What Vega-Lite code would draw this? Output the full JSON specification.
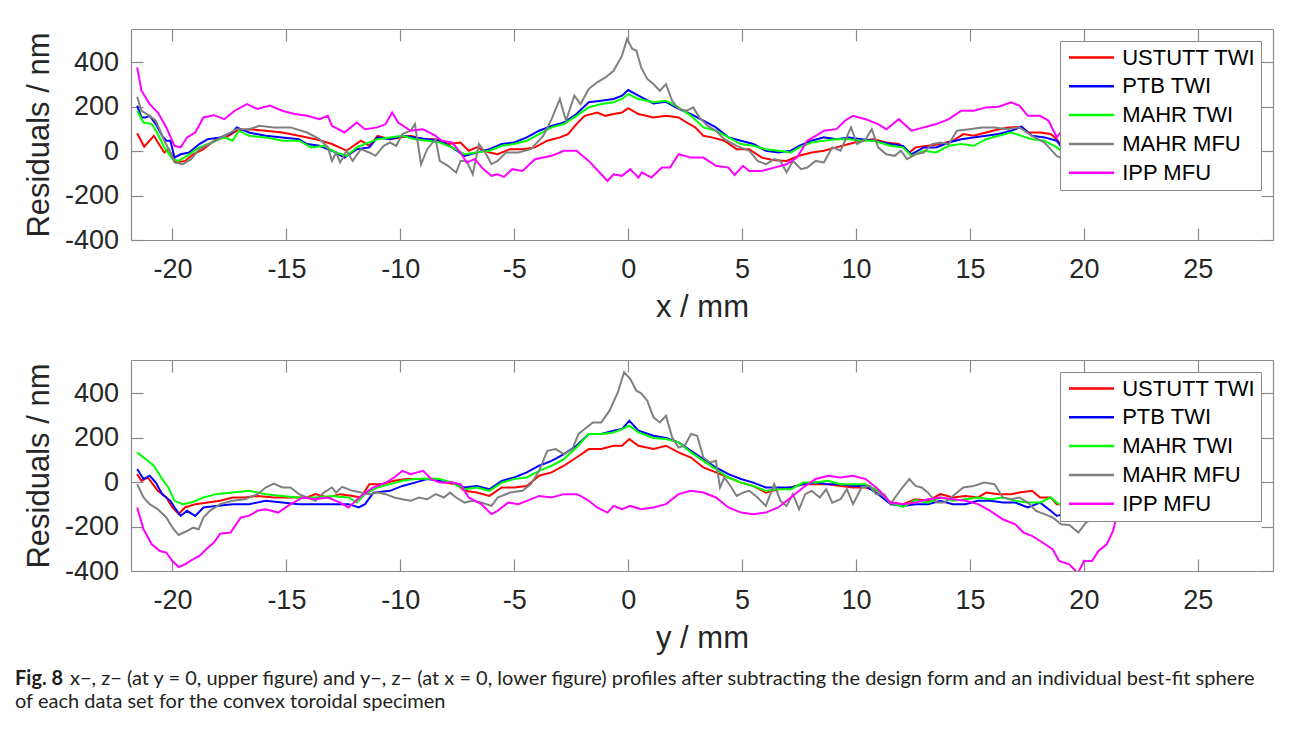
{
  "$schema": "https://vega.github.io/schema/vega-lite/v6.json",
  "background": "white",
  "padding": {"left": 15, "top": 28, "right": 5, "bottom": 0},
  "config": {"view": {"stroke": null}, "font": "Liberation Sans",
    "axis": {"labelFont": "Liberation Sans", "titleFont": "Liberation Sans"},
    "legend": {"labelFont": "Liberation Sans"}},
  "datasets": {
    "top": [
      {"s":"USTUTT TWI","x":-21.55,"y":81},{"s":"USTUTT TWI","x":-21.24,"y":20},{"s":"USTUTT TWI","x":-20.82,"y":69},{"s":"USTUTT TWI","x":-20.36,"y":-6},{"s":"USTUTT TWI","x":-20.18,"y":9},{"s":"USTUTT TWI","x":-19.82,"y":-51},{"s":"USTUTT TWI","x":-19.45,"y":-44},{"s":"USTUTT TWI","x":-19.09,"y":-14},{"s":"USTUTT TWI","x":-18.64,"y":9},{"s":"USTUTT TWI","x":-18.09,"y":54},{"s":"USTUTT TWI","x":-17.64,"y":62},{"s":"USTUTT TWI","x":-17.18,"y":92},{"s":"USTUTT TWI","x":-16.64,"y":99},{"s":"USTUTT TWI","x":-15.91,"y":92},{"s":"USTUTT TWI","x":-15.18,"y":84},{"s":"USTUTT TWI","x":-14.45,"y":69},{"s":"USTUTT TWI","x":-13.73,"y":54},{"s":"USTUTT TWI","x":-13.0,"y":32},{"s":"USTUTT TWI","x":-12.36,"y":2},{"s":"USTUTT TWI","x":-11.73,"y":47},{"s":"USTUTT TWI","x":-11.36,"y":24},{"s":"USTUTT TWI","x":-11.0,"y":69},{"s":"USTUTT TWI","x":-10.45,"y":54},{"s":"USTUTT TWI","x":-9.55,"y":69},{"s":"USTUTT TWI","x":-9.0,"y":54},{"s":"USTUTT TWI","x":-8.45,"y":54},{"s":"USTUTT TWI","x":-7.91,"y":32},{"s":"USTUTT TWI","x":-7.36,"y":39},{"s":"USTUTT TWI","x":-7.0,"y":2},{"s":"USTUTT TWI","x":-6.64,"y":17},{"s":"USTUTT TWI","x":-6.09,"y":-6},{"s":"USTUTT TWI","x":-5.73,"y":-14},{"s":"USTUTT TWI","x":-5.18,"y":9},{"s":"USTUTT TWI","x":-4.64,"y":9},{"s":"USTUTT TWI","x":-4.09,"y":17},{"s":"USTUTT TWI","x":-3.55,"y":47},{"s":"USTUTT TWI","x":-3.0,"y":62},{"s":"USTUTT TWI","x":-2.64,"y":77},{"s":"USTUTT TWI","x":-2.27,"y":122},{"s":"USTUTT TWI","x":-1.91,"y":159},{"s":"USTUTT TWI","x":-1.36,"y":174},{"s":"USTUTT TWI","x":-1.0,"y":159},{"s":"USTUTT TWI","x":-0.64,"y":167},{"s":"USTUTT TWI","x":-0.27,"y":174},{"s":"USTUTT TWI","x":0,"y":194},{"s":"USTUTT TWI","x":0.45,"y":167},{"s":"USTUTT TWI","x":1.11,"y":152},{"s":"USTUTT TWI","x":1.66,"y":159},{"s":"USTUTT TWI","x":2.21,"y":152},{"s":"USTUTT TWI","x":2.57,"y":129},{"s":"USTUTT TWI","x":2.94,"y":107},{"s":"USTUTT TWI","x":3.3,"y":69},{"s":"USTUTT TWI","x":3.67,"y":62},{"s":"USTUTT TWI","x":4.22,"y":47},{"s":"USTUTT TWI","x":4.76,"y":9},{"s":"USTUTT TWI","x":5.31,"y":9},{"s":"USTUTT TWI","x":5.86,"y":-29},{"s":"USTUTT TWI","x":6.41,"y":-41},{"s":"USTUTT TWI","x":6.95,"y":-44},{"s":"USTUTT TWI","x":7.5,"y":-21},{"s":"USTUTT TWI","x":8.05,"y":-6},{"s":"USTUTT TWI","x":8.59,"y":2},{"s":"USTUTT TWI","x":9.14,"y":17},{"s":"USTUTT TWI","x":9.69,"y":32},{"s":"USTUTT TWI","x":10.24,"y":47},{"s":"USTUTT TWI","x":10.78,"y":54},{"s":"USTUTT TWI","x":11.33,"y":39},{"s":"USTUTT TWI","x":11.88,"y":32},{"s":"USTUTT TWI","x":12.34,"y":-6},{"s":"USTUTT TWI","x":12.61,"y":17},{"s":"USTUTT TWI","x":13.16,"y":24},{"s":"USTUTT TWI","x":13.7,"y":32},{"s":"USTUTT TWI","x":14.25,"y":47},{"s":"USTUTT TWI","x":14.71,"y":77},{"s":"USTUTT TWI","x":15.16,"y":69},{"s":"USTUTT TWI","x":15.71,"y":84},{"s":"USTUTT TWI","x":16.26,"y":99},{"s":"USTUTT TWI","x":16.72,"y":107},{"s":"USTUTT TWI","x":17.26,"y":110},{"s":"USTUTT TWI","x":17.54,"y":84},{"s":"USTUTT TWI","x":18.08,"y":84},{"s":"USTUTT TWI","x":18.54,"y":77},{"s":"USTUTT TWI","x":18.81,"y":54},{"s":"USTUTT TWI","x":19.09,"y":9},{"s":"USTUTT TWI","x":19.6,"y":-20},{"s":"USTUTT TWI","x":20.3,"y":-10},{"s":"USTUTT TWI","x":21.0,"y":30},{"s":"USTUTT TWI","x":21.5,"y":60},
      {"s":"PTB TWI","x":-21.55,"y":205},{"s":"PTB TWI","x":-21.36,"y":152},{"s":"PTB TWI","x":-21.18,"y":152},{"s":"PTB TWI","x":-21.0,"y":159},{"s":"PTB TWI","x":-20.73,"y":122},{"s":"PTB TWI","x":-20.45,"y":69},{"s":"PTB TWI","x":-20.27,"y":47},{"s":"PTB TWI","x":-20.09,"y":47},{"s":"PTB TWI","x":-19.91,"y":-29},{"s":"PTB TWI","x":-19.64,"y":-14},{"s":"PTB TWI","x":-19.27,"y":-6},{"s":"PTB TWI","x":-18.82,"y":32},{"s":"PTB TWI","x":-18.45,"y":54},{"s":"PTB TWI","x":-17.91,"y":62},{"s":"PTB TWI","x":-17.36,"y":84},{"s":"PTB TWI","x":-17.18,"y":107},{"s":"PTB TWI","x":-16.64,"y":84},{"s":"PTB TWI","x":-15.91,"y":69},{"s":"PTB TWI","x":-15.18,"y":62},{"s":"PTB TWI","x":-14.45,"y":54},{"s":"PTB TWI","x":-14.09,"y":32},{"s":"PTB TWI","x":-13.55,"y":24},{"s":"PTB TWI","x":-13.0,"y":2},{"s":"PTB TWI","x":-12.45,"y":-29},{"s":"PTB TWI","x":-11.91,"y":9},{"s":"PTB TWI","x":-11.36,"y":17},{"s":"PTB TWI","x":-11.0,"y":62},{"s":"PTB TWI","x":-10.45,"y":54},{"s":"PTB TWI","x":-9.91,"y":69},{"s":"PTB TWI","x":-9.36,"y":62},{"s":"PTB TWI","x":-8.82,"y":54},{"s":"PTB TWI","x":-8.27,"y":47},{"s":"PTB TWI","x":-7.73,"y":17},{"s":"PTB TWI","x":-7.18,"y":-21},{"s":"PTB TWI","x":-6.64,"y":-6},{"s":"PTB TWI","x":-6.09,"y":9},{"s":"PTB TWI","x":-5.55,"y":32},{"s":"PTB TWI","x":-5.0,"y":39},{"s":"PTB TWI","x":-4.45,"y":62},{"s":"PTB TWI","x":-3.91,"y":92},{"s":"PTB TWI","x":-3.36,"y":114},{"s":"PTB TWI","x":-2.82,"y":129},{"s":"PTB TWI","x":-2.27,"y":167},{"s":"PTB TWI","x":-1.73,"y":220},{"s":"PTB TWI","x":-1.18,"y":227},{"s":"PTB TWI","x":-0.64,"y":235},{"s":"PTB TWI","x":-0.27,"y":250},{"s":"PTB TWI","x":0,"y":275},{"s":"PTB TWI","x":0.45,"y":250},{"s":"PTB TWI","x":1.11,"y":215},{"s":"PTB TWI","x":1.66,"y":222},{"s":"PTB TWI","x":2.21,"y":190},{"s":"PTB TWI","x":2.76,"y":167},{"s":"PTB TWI","x":3.3,"y":137},{"s":"PTB TWI","x":3.85,"y":107},{"s":"PTB TWI","x":4.4,"y":62},{"s":"PTB TWI","x":4.95,"y":47},{"s":"PTB TWI","x":5.49,"y":32},{"s":"PTB TWI","x":6.04,"y":2},{"s":"PTB TWI","x":6.59,"y":-6},{"s":"PTB TWI","x":7.14,"y":2},{"s":"PTB TWI","x":7.5,"y":24},{"s":"PTB TWI","x":8.05,"y":47},{"s":"PTB TWI","x":8.59,"y":62},{"s":"PTB TWI","x":9.14,"y":54},{"s":"PTB TWI","x":9.69,"y":62},{"s":"PTB TWI","x":10.24,"y":54},{"s":"PTB TWI","x":10.78,"y":47},{"s":"PTB TWI","x":11.51,"y":32},{"s":"PTB TWI","x":12.06,"y":24},{"s":"PTB TWI","x":12.43,"y":-14},{"s":"PTB TWI","x":12.97,"y":17},{"s":"PTB TWI","x":13.52,"y":17},{"s":"PTB TWI","x":14.07,"y":39},{"s":"PTB TWI","x":14.62,"y":54},{"s":"PTB TWI","x":15.16,"y":62},{"s":"PTB TWI","x":15.71,"y":69},{"s":"PTB TWI","x":16.26,"y":77},{"s":"PTB TWI","x":16.81,"y":92},{"s":"PTB TWI","x":17.26,"y":110},{"s":"PTB TWI","x":17.72,"y":69},{"s":"PTB TWI","x":18.27,"y":62},{"s":"PTB TWI","x":18.81,"y":47},{"s":"PTB TWI","x":19.09,"y":9},{"s":"PTB TWI","x":19.6,"y":-15},{"s":"PTB TWI","x":20.3,"y":0},{"s":"PTB TWI","x":21.0,"y":40},{"s":"PTB TWI","x":21.5,"y":80},
      {"s":"MAHR TWI","x":-21.55,"y":182},{"s":"MAHR TWI","x":-21.27,"y":129},{"s":"MAHR TWI","x":-20.91,"y":122},{"s":"MAHR TWI","x":-20.64,"y":77},{"s":"MAHR TWI","x":-20.36,"y":17},{"s":"MAHR TWI","x":-20.0,"y":-36},{"s":"MAHR TWI","x":-19.73,"y":-44},{"s":"MAHR TWI","x":-19.36,"y":-21},{"s":"MAHR TWI","x":-18.82,"y":17},{"s":"MAHR TWI","x":-18.27,"y":39},{"s":"MAHR TWI","x":-17.73,"y":62},{"s":"MAHR TWI","x":-17.36,"y":47},{"s":"MAHR TWI","x":-17.09,"y":92},{"s":"MAHR TWI","x":-16.64,"y":69},{"s":"MAHR TWI","x":-15.91,"y":62},{"s":"MAHR TWI","x":-15.18,"y":47},{"s":"MAHR TWI","x":-14.45,"y":47},{"s":"MAHR TWI","x":-13.91,"y":17},{"s":"MAHR TWI","x":-13.36,"y":24},{"s":"MAHR TWI","x":-12.82,"y":-6},{"s":"MAHR TWI","x":-12.36,"y":-21},{"s":"MAHR TWI","x":-11.91,"y":17},{"s":"MAHR TWI","x":-11.55,"y":32},{"s":"MAHR TWI","x":-11.0,"y":54},{"s":"MAHR TWI","x":-10.45,"y":62},{"s":"MAHR TWI","x":-9.91,"y":69},{"s":"MAHR TWI","x":-9.36,"y":54},{"s":"MAHR TWI","x":-8.82,"y":47},{"s":"MAHR TWI","x":-8.27,"y":39},{"s":"MAHR TWI","x":-7.73,"y":17},{"s":"MAHR TWI","x":-7.18,"y":-14},{"s":"MAHR TWI","x":-6.64,"y":-6},{"s":"MAHR TWI","x":-6.09,"y":2},{"s":"MAHR TWI","x":-5.55,"y":24},{"s":"MAHR TWI","x":-5.0,"y":32},{"s":"MAHR TWI","x":-4.45,"y":47},{"s":"MAHR TWI","x":-3.91,"y":77},{"s":"MAHR TWI","x":-3.36,"y":107},{"s":"MAHR TWI","x":-2.82,"y":122},{"s":"MAHR TWI","x":-2.27,"y":159},{"s":"MAHR TWI","x":-1.73,"y":197},{"s":"MAHR TWI","x":-1.18,"y":212},{"s":"MAHR TWI","x":-0.64,"y":220},{"s":"MAHR TWI","x":-0.27,"y":235},{"s":"MAHR TWI","x":0,"y":257},{"s":"MAHR TWI","x":0.45,"y":235},{"s":"MAHR TWI","x":1.11,"y":220},{"s":"MAHR TWI","x":1.66,"y":227},{"s":"MAHR TWI","x":2.21,"y":197},{"s":"MAHR TWI","x":2.76,"y":159},{"s":"MAHR TWI","x":3.3,"y":107},{"s":"MAHR TWI","x":3.85,"y":92},{"s":"MAHR TWI","x":4.4,"y":62},{"s":"MAHR TWI","x":4.95,"y":32},{"s":"MAHR TWI","x":5.49,"y":24},{"s":"MAHR TWI","x":6.04,"y":9},{"s":"MAHR TWI","x":6.59,"y":2},{"s":"MAHR TWI","x":7.14,"y":-6},{"s":"MAHR TWI","x":7.5,"y":17},{"s":"MAHR TWI","x":8.05,"y":39},{"s":"MAHR TWI","x":8.59,"y":47},{"s":"MAHR TWI","x":9.14,"y":54},{"s":"MAHR TWI","x":9.69,"y":54},{"s":"MAHR TWI","x":10.24,"y":47},{"s":"MAHR TWI","x":10.78,"y":47},{"s":"MAHR TWI","x":11.51,"y":24},{"s":"MAHR TWI","x":12.06,"y":17},{"s":"MAHR TWI","x":12.43,"y":-21},{"s":"MAHR TWI","x":12.97,"y":2},{"s":"MAHR TWI","x":13.52,"y":-6},{"s":"MAHR TWI","x":14.07,"y":24},{"s":"MAHR TWI","x":14.62,"y":32},{"s":"MAHR TWI","x":15.16,"y":24},{"s":"MAHR TWI","x":15.71,"y":54},{"s":"MAHR TWI","x":16.26,"y":69},{"s":"MAHR TWI","x":16.81,"y":84},{"s":"MAHR TWI","x":17.26,"y":69},{"s":"MAHR TWI","x":17.72,"y":54},{"s":"MAHR TWI","x":18.27,"y":47},{"s":"MAHR TWI","x":18.81,"y":17},{"s":"MAHR TWI","x":19.09,"y":-6},{"s":"MAHR TWI","x":19.6,"y":-25},{"s":"MAHR TWI","x":20.3,"y":-10},{"s":"MAHR TWI","x":21.0,"y":30},{"s":"MAHR TWI","x":21.5,"y":70},
      {"s":"MAHR MFU","x":-21.55,"y":245},{"s":"MAHR MFU","x":-21.36,"y":182},{"s":"MAHR MFU","x":-21.0,"y":159},{"s":"MAHR MFU","x":-20.73,"y":137},{"s":"MAHR MFU","x":-20.36,"y":47},{"s":"MAHR MFU","x":-20.09,"y":-6},{"s":"MAHR MFU","x":-19.91,"y":-51},{"s":"MAHR MFU","x":-19.55,"y":-59},{"s":"MAHR MFU","x":-19.18,"y":-36},{"s":"MAHR MFU","x":-18.82,"y":9},{"s":"MAHR MFU","x":-18.27,"y":39},{"s":"MAHR MFU","x":-17.73,"y":69},{"s":"MAHR MFU","x":-17.18,"y":99},{"s":"MAHR MFU","x":-16.64,"y":99},{"s":"MAHR MFU","x":-16.18,"y":114},{"s":"MAHR MFU","x":-15.55,"y":107},{"s":"MAHR MFU","x":-14.82,"y":107},{"s":"MAHR MFU","x":-14.09,"y":84},{"s":"MAHR MFU","x":-13.55,"y":54},{"s":"MAHR MFU","x":-13.18,"y":17},{"s":"MAHR MFU","x":-13.0,"y":-44},{"s":"MAHR MFU","x":-12.82,"y":-6},{"s":"MAHR MFU","x":-12.64,"y":-51},{"s":"MAHR MFU","x":-12.36,"y":2},{"s":"MAHR MFU","x":-12.09,"y":-44},{"s":"MAHR MFU","x":-11.73,"y":9},{"s":"MAHR MFU","x":-11.36,"y":-6},{"s":"MAHR MFU","x":-11.09,"y":-21},{"s":"MAHR MFU","x":-10.73,"y":24},{"s":"MAHR MFU","x":-10.45,"y":39},{"s":"MAHR MFU","x":-10.18,"y":24},{"s":"MAHR MFU","x":-9.91,"y":77},{"s":"MAHR MFU","x":-9.55,"y":92},{"s":"MAHR MFU","x":-9.36,"y":122},{"s":"MAHR MFU","x":-9.09,"y":-59},{"s":"MAHR MFU","x":-8.82,"y":9},{"s":"MAHR MFU","x":-8.45,"y":54},{"s":"MAHR MFU","x":-8.27,"y":-44},{"s":"MAHR MFU","x":-7.91,"y":-66},{"s":"MAHR MFU","x":-7.55,"y":-96},{"s":"MAHR MFU","x":-7.36,"y":-44},{"s":"MAHR MFU","x":-7.09,"y":-44},{"s":"MAHR MFU","x":-6.82,"y":-104},{"s":"MAHR MFU","x":-6.55,"y":32},{"s":"MAHR MFU","x":-6.27,"y":-6},{"s":"MAHR MFU","x":-6.0,"y":-59},{"s":"MAHR MFU","x":-5.73,"y":-44},{"s":"MAHR MFU","x":-5.36,"y":-6},{"s":"MAHR MFU","x":-4.82,"y":-6},{"s":"MAHR MFU","x":-4.27,"y":9},{"s":"MAHR MFU","x":-3.73,"y":69},{"s":"MAHR MFU","x":-3.36,"y":144},{"s":"MAHR MFU","x":-3.0,"y":235},{"s":"MAHR MFU","x":-2.73,"y":137},{"s":"MAHR MFU","x":-2.36,"y":250},{"s":"MAHR MFU","x":-2.09,"y":212},{"s":"MAHR MFU","x":-1.73,"y":280},{"s":"MAHR MFU","x":-1.36,"y":310},{"s":"MAHR MFU","x":-1.0,"y":332},{"s":"MAHR MFU","x":-0.64,"y":362},{"s":"MAHR MFU","x":-0.27,"y":430},{"s":"MAHR MFU","x":-0.05,"y":505},{"s":"MAHR MFU","x":0.18,"y":460},{"s":"MAHR MFU","x":0.36,"y":453},{"s":"MAHR MFU","x":0.57,"y":377},{"s":"MAHR MFU","x":0.84,"y":325},{"s":"MAHR MFU","x":1.11,"y":302},{"s":"MAHR MFU","x":1.39,"y":272},{"s":"MAHR MFU","x":1.66,"y":302},{"s":"MAHR MFU","x":1.93,"y":227},{"s":"MAHR MFU","x":2.21,"y":190},{"s":"MAHR MFU","x":2.57,"y":182},{"s":"MAHR MFU","x":2.85,"y":197},{"s":"MAHR MFU","x":3.12,"y":152},{"s":"MAHR MFU","x":3.49,"y":114},{"s":"MAHR MFU","x":3.85,"y":92},{"s":"MAHR MFU","x":4.22,"y":54},{"s":"MAHR MFU","x":4.76,"y":24},{"s":"MAHR MFU","x":5.31,"y":2},{"s":"MAHR MFU","x":5.68,"y":-44},{"s":"MAHR MFU","x":6.04,"y":-59},{"s":"MAHR MFU","x":6.41,"y":-36},{"s":"MAHR MFU","x":6.68,"y":-44},{"s":"MAHR MFU","x":6.95,"y":-96},{"s":"MAHR MFU","x":7.23,"y":-44},{"s":"MAHR MFU","x":7.59,"y":-81},{"s":"MAHR MFU","x":7.86,"y":-74},{"s":"MAHR MFU","x":8.23,"y":-44},{"s":"MAHR MFU","x":8.59,"y":-51},{"s":"MAHR MFU","x":8.96,"y":17},{"s":"MAHR MFU","x":9.32,"y":2},{"s":"MAHR MFU","x":9.78,"y":107},{"s":"MAHR MFU","x":10.05,"y":32},{"s":"MAHR MFU","x":10.42,"y":54},{"s":"MAHR MFU","x":10.69,"y":99},{"s":"MAHR MFU","x":10.97,"y":17},{"s":"MAHR MFU","x":11.33,"y":-14},{"s":"MAHR MFU","x":11.7,"y":-21},{"s":"MAHR MFU","x":11.97,"y":2},{"s":"MAHR MFU","x":12.24,"y":-36},{"s":"MAHR MFU","x":12.61,"y":-14},{"s":"MAHR MFU","x":12.97,"y":-6},{"s":"MAHR MFU","x":13.34,"y":32},{"s":"MAHR MFU","x":13.7,"y":39},{"s":"MAHR MFU","x":14.07,"y":32},{"s":"MAHR MFU","x":14.43,"y":92},{"s":"MAHR MFU","x":14.98,"y":99},{"s":"MAHR MFU","x":15.53,"y":107},{"s":"MAHR MFU","x":16.08,"y":107},{"s":"MAHR MFU","x":16.62,"y":99},{"s":"MAHR MFU","x":17.17,"y":107},{"s":"MAHR MFU","x":17.72,"y":69},{"s":"MAHR MFU","x":18.27,"y":39},{"s":"MAHR MFU","x":18.81,"y":-21},{"s":"MAHR MFU","x":19.09,"y":-36},{"s":"MAHR MFU","x":19.6,"y":-50},{"s":"MAHR MFU","x":20.3,"y":-20},{"s":"MAHR MFU","x":21.0,"y":30},{"s":"MAHR MFU","x":21.5,"y":80},
      {"s":"IPP MFU","x":-21.55,"y":377},{"s":"IPP MFU","x":-21.36,"y":272},{"s":"IPP MFU","x":-21.0,"y":212},{"s":"IPP MFU","x":-20.64,"y":174},{"s":"IPP MFU","x":-20.27,"y":107},{"s":"IPP MFU","x":-19.91,"y":24},{"s":"IPP MFU","x":-19.64,"y":17},{"s":"IPP MFU","x":-19.36,"y":62},{"s":"IPP MFU","x":-19.0,"y":84},{"s":"IPP MFU","x":-18.64,"y":152},{"s":"IPP MFU","x":-18.18,"y":162},{"s":"IPP MFU","x":-17.73,"y":144},{"s":"IPP MFU","x":-17.27,"y":182},{"s":"IPP MFU","x":-16.73,"y":212},{"s":"IPP MFU","x":-16.27,"y":190},{"s":"IPP MFU","x":-15.73,"y":205},{"s":"IPP MFU","x":-15.18,"y":182},{"s":"IPP MFU","x":-14.64,"y":167},{"s":"IPP MFU","x":-14.09,"y":159},{"s":"IPP MFU","x":-13.55,"y":144},{"s":"IPP MFU","x":-13.18,"y":159},{"s":"IPP MFU","x":-13.0,"y":114},{"s":"IPP MFU","x":-12.45,"y":84},{"s":"IPP MFU","x":-11.91,"y":129},{"s":"IPP MFU","x":-11.55,"y":99},{"s":"IPP MFU","x":-11.0,"y":107},{"s":"IPP MFU","x":-10.64,"y":122},{"s":"IPP MFU","x":-10.36,"y":174},{"s":"IPP MFU","x":-10.09,"y":129},{"s":"IPP MFU","x":-9.55,"y":92},{"s":"IPP MFU","x":-9.0,"y":99},{"s":"IPP MFU","x":-8.45,"y":69},{"s":"IPP MFU","x":-8.18,"y":47},{"s":"IPP MFU","x":-7.73,"y":39},{"s":"IPP MFU","x":-7.36,"y":-6},{"s":"IPP MFU","x":-7.09,"y":-51},{"s":"IPP MFU","x":-6.73,"y":-36},{"s":"IPP MFU","x":-6.36,"y":-81},{"s":"IPP MFU","x":-6.0,"y":-111},{"s":"IPP MFU","x":-5.73,"y":-104},{"s":"IPP MFU","x":-5.45,"y":-116},{"s":"IPP MFU","x":-5.09,"y":-81},{"s":"IPP MFU","x":-4.64,"y":-89},{"s":"IPP MFU","x":-4.09,"y":-36},{"s":"IPP MFU","x":-3.73,"y":-29},{"s":"IPP MFU","x":-3.36,"y":-21},{"s":"IPP MFU","x":-2.82,"y":2},{"s":"IPP MFU","x":-2.27,"y":2},{"s":"IPP MFU","x":-1.73,"y":-44},{"s":"IPP MFU","x":-1.18,"y":-104},{"s":"IPP MFU","x":-0.91,"y":-134},{"s":"IPP MFU","x":-0.64,"y":-104},{"s":"IPP MFU","x":-0.27,"y":-111},{"s":"IPP MFU","x":0.09,"y":-81},{"s":"IPP MFU","x":0.45,"y":-119},{"s":"IPP MFU","x":0.6,"y":-95},{"s":"IPP MFU","x":1.02,"y":-119},{"s":"IPP MFU","x":1.48,"y":-74},{"s":"IPP MFU","x":1.84,"y":-74},{"s":"IPP MFU","x":2.21,"y":-14},{"s":"IPP MFU","x":2.76,"y":-29},{"s":"IPP MFU","x":3.3,"y":-29},{"s":"IPP MFU","x":3.85,"y":-66},{"s":"IPP MFU","x":4.4,"y":-74},{"s":"IPP MFU","x":4.67,"y":-107},{"s":"IPP MFU","x":5.04,"y":-66},{"s":"IPP MFU","x":5.31,"y":-89},{"s":"IPP MFU","x":5.86,"y":-89},{"s":"IPP MFU","x":6.41,"y":-74},{"s":"IPP MFU","x":6.95,"y":-59},{"s":"IPP MFU","x":7.41,"y":-29},{"s":"IPP MFU","x":7.86,"y":47},{"s":"IPP MFU","x":8.23,"y":69},{"s":"IPP MFU","x":8.59,"y":92},{"s":"IPP MFU","x":9.14,"y":99},{"s":"IPP MFU","x":9.51,"y":137},{"s":"IPP MFU","x":9.87,"y":159},{"s":"IPP MFU","x":10.42,"y":144},{"s":"IPP MFU","x":10.97,"y":122},{"s":"IPP MFU","x":11.33,"y":99},{"s":"IPP MFU","x":11.88,"y":144},{"s":"IPP MFU","x":12.43,"y":92},{"s":"IPP MFU","x":12.97,"y":107},{"s":"IPP MFU","x":13.52,"y":122},{"s":"IPP MFU","x":14.07,"y":144},{"s":"IPP MFU","x":14.62,"y":182},{"s":"IPP MFU","x":15.16,"y":182},{"s":"IPP MFU","x":15.71,"y":197},{"s":"IPP MFU","x":16.26,"y":200},{"s":"IPP MFU","x":16.81,"y":220},{"s":"IPP MFU","x":17.17,"y":205},{"s":"IPP MFU","x":17.54,"y":159},{"s":"IPP MFU","x":18.08,"y":159},{"s":"IPP MFU","x":18.45,"y":137},{"s":"IPP MFU","x":18.81,"y":62},{"s":"IPP MFU","x":19.09,"y":99},{"s":"IPP MFU","x":19.6,"y":120},{"s":"IPP MFU","x":20.3,"y":180},{"s":"IPP MFU","x":21.0,"y":280},{"s":"IPP MFU","x":21.5,"y":370}
    ],
    "bottom": [
      {"s":"USTUTT TWI","x":-21.55,"y":36},{"s":"USTUTT TWI","x":-21.36,"y":6},{"s":"USTUTT TWI","x":-21.09,"y":21},{"s":"USTUTT TWI","x":-20.91,"y":-2},{"s":"USTUTT TWI","x":-20.64,"y":-39},{"s":"USTUTT TWI","x":-20.27,"y":-69},{"s":"USTUTT TWI","x":-20.0,"y":-114},{"s":"USTUTT TWI","x":-19.73,"y":-144},{"s":"USTUTT TWI","x":-19.45,"y":-114},{"s":"USTUTT TWI","x":-19.0,"y":-99},{"s":"USTUTT TWI","x":-18.45,"y":-92},{"s":"USTUTT TWI","x":-17.91,"y":-84},{"s":"USTUTT TWI","x":-17.36,"y":-69},{"s":"USTUTT TWI","x":-16.82,"y":-69},{"s":"USTUTT TWI","x":-16.27,"y":-62},{"s":"USTUTT TWI","x":-15.55,"y":-69},{"s":"USTUTT TWI","x":-14.82,"y":-69},{"s":"USTUTT TWI","x":-14.09,"y":-69},{"s":"USTUTT TWI","x":-13.73,"y":-54},{"s":"USTUTT TWI","x":-13.18,"y":-69},{"s":"USTUTT TWI","x":-12.64,"y":-54},{"s":"USTUTT TWI","x":-12.09,"y":-62},{"s":"USTUTT TWI","x":-11.73,"y":-69},{"s":"USTUTT TWI","x":-11.36,"y":-9},{"s":"USTUTT TWI","x":-10.82,"y":-9},{"s":"USTUTT TWI","x":-10.27,"y":6},{"s":"USTUTT TWI","x":-9.73,"y":14},{"s":"USTUTT TWI","x":-9.18,"y":14},{"s":"USTUTT TWI","x":-8.64,"y":14},{"s":"USTUTT TWI","x":-8.09,"y":-2},{"s":"USTUTT TWI","x":-7.55,"y":-9},{"s":"USTUTT TWI","x":-7.18,"y":-39},{"s":"USTUTT TWI","x":-6.64,"y":-47},{"s":"USTUTT TWI","x":-6.09,"y":-62},{"s":"USTUTT TWI","x":-5.55,"y":-24},{"s":"USTUTT TWI","x":-5.0,"y":-24},{"s":"USTUTT TWI","x":-4.45,"y":-17},{"s":"USTUTT TWI","x":-3.91,"y":29},{"s":"USTUTT TWI","x":-3.36,"y":44},{"s":"USTUTT TWI","x":-2.82,"y":74},{"s":"USTUTT TWI","x":-2.27,"y":111},{"s":"USTUTT TWI","x":-1.73,"y":149},{"s":"USTUTT TWI","x":-1.18,"y":149},{"s":"USTUTT TWI","x":-0.64,"y":164},{"s":"USTUTT TWI","x":-0.27,"y":164},{"s":"USTUTT TWI","x":0.05,"y":194},{"s":"USTUTT TWI","x":0.45,"y":164},{"s":"USTUTT TWI","x":1.11,"y":149},{"s":"USTUTT TWI","x":1.66,"y":164},{"s":"USTUTT TWI","x":2.21,"y":134},{"s":"USTUTT TWI","x":2.76,"y":111},{"s":"USTUTT TWI","x":3.3,"y":66},{"s":"USTUTT TWI","x":3.85,"y":44},{"s":"USTUTT TWI","x":4.4,"y":21},{"s":"USTUTT TWI","x":4.95,"y":-2},{"s":"USTUTT TWI","x":5.49,"y":-17},{"s":"USTUTT TWI","x":6.04,"y":-47},{"s":"USTUTT TWI","x":6.59,"y":-32},{"s":"USTUTT TWI","x":7.14,"y":-24},{"s":"USTUTT TWI","x":7.68,"y":-9},{"s":"USTUTT TWI","x":8.23,"y":-9},{"s":"USTUTT TWI","x":8.78,"y":-9},{"s":"USTUTT TWI","x":9.32,"y":-17},{"s":"USTUTT TWI","x":9.87,"y":-24},{"s":"USTUTT TWI","x":10.42,"y":-24},{"s":"USTUTT TWI","x":10.97,"y":-39},{"s":"USTUTT TWI","x":11.51,"y":-92},{"s":"USTUTT TWI","x":12.06,"y":-99},{"s":"USTUTT TWI","x":12.61,"y":-77},{"s":"USTUTT TWI","x":13.16,"y":-84},{"s":"USTUTT TWI","x":13.7,"y":-54},{"s":"USTUTT TWI","x":14.25,"y":-69},{"s":"USTUTT TWI","x":14.8,"y":-62},{"s":"USTUTT TWI","x":15.35,"y":-69},{"s":"USTUTT TWI","x":15.71,"y":-47},{"s":"USTUTT TWI","x":16.26,"y":-54},{"s":"USTUTT TWI","x":16.81,"y":-54},{"s":"USTUTT TWI","x":17.17,"y":-47},{"s":"USTUTT TWI","x":17.72,"y":-39},{"s":"USTUTT TWI","x":18.08,"y":-69},{"s":"USTUTT TWI","x":18.54,"y":-69},{"s":"USTUTT TWI","x":18.81,"y":-99},{"s":"USTUTT TWI","x":19.09,"y":-99},{"s":"USTUTT TWI","x":19.8,"y":-110},{"s":"USTUTT TWI","x":20.6,"y":-80},{"s":"USTUTT TWI","x":21.5,"y":-40},
      {"s":"PTB TWI","x":-21.55,"y":59},{"s":"PTB TWI","x":-21.27,"y":14},{"s":"PTB TWI","x":-21.0,"y":29},{"s":"PTB TWI","x":-20.73,"y":-2},{"s":"PTB TWI","x":-20.45,"y":-54},{"s":"PTB TWI","x":-20.09,"y":-84},{"s":"PTB TWI","x":-19.91,"y":-114},{"s":"PTB TWI","x":-19.64,"y":-152},{"s":"PTB TWI","x":-19.36,"y":-129},{"s":"PTB TWI","x":-19.0,"y":-152},{"s":"PTB TWI","x":-18.64,"y":-114},{"s":"PTB TWI","x":-18.09,"y":-107},{"s":"PTB TWI","x":-17.36,"y":-99},{"s":"PTB TWI","x":-16.64,"y":-99},{"s":"PTB TWI","x":-15.91,"y":-84},{"s":"PTB TWI","x":-15.18,"y":-92},{"s":"PTB TWI","x":-14.45,"y":-99},{"s":"PTB TWI","x":-13.73,"y":-99},{"s":"PTB TWI","x":-13.0,"y":-99},{"s":"PTB TWI","x":-12.27,"y":-99},{"s":"PTB TWI","x":-11.82,"y":-114},{"s":"PTB TWI","x":-11.55,"y":-99},{"s":"PTB TWI","x":-11.18,"y":-47},{"s":"PTB TWI","x":-10.45,"y":-39},{"s":"PTB TWI","x":-9.91,"y":-17},{"s":"PTB TWI","x":-9.36,"y":-2},{"s":"PTB TWI","x":-8.82,"y":14},{"s":"PTB TWI","x":-8.27,"y":6},{"s":"PTB TWI","x":-7.73,"y":-2},{"s":"PTB TWI","x":-7.18,"y":-24},{"s":"PTB TWI","x":-6.64,"y":-17},{"s":"PTB TWI","x":-6.09,"y":-32},{"s":"PTB TWI","x":-5.55,"y":6},{"s":"PTB TWI","x":-5.0,"y":21},{"s":"PTB TWI","x":-4.45,"y":44},{"s":"PTB TWI","x":-3.91,"y":74},{"s":"PTB TWI","x":-3.36,"y":96},{"s":"PTB TWI","x":-2.82,"y":126},{"s":"PTB TWI","x":-2.27,"y":164},{"s":"PTB TWI","x":-1.73,"y":217},{"s":"PTB TWI","x":-1.18,"y":217},{"s":"PTB TWI","x":-0.64,"y":232},{"s":"PTB TWI","x":-0.27,"y":239},{"s":"PTB TWI","x":0.05,"y":277},{"s":"PTB TWI","x":0.45,"y":232},{"s":"PTB TWI","x":1.11,"y":209},{"s":"PTB TWI","x":1.66,"y":199},{"s":"PTB TWI","x":2.21,"y":179},{"s":"PTB TWI","x":2.76,"y":141},{"s":"PTB TWI","x":3.3,"y":104},{"s":"PTB TWI","x":3.85,"y":66},{"s":"PTB TWI","x":4.4,"y":36},{"s":"PTB TWI","x":4.95,"y":14},{"s":"PTB TWI","x":5.49,"y":-2},{"s":"PTB TWI","x":6.04,"y":-24},{"s":"PTB TWI","x":6.59,"y":-24},{"s":"PTB TWI","x":7.14,"y":-24},{"s":"PTB TWI","x":7.68,"y":-9},{"s":"PTB TWI","x":8.23,"y":-2},{"s":"PTB TWI","x":8.78,"y":-9},{"s":"PTB TWI","x":9.32,"y":-9},{"s":"PTB TWI","x":9.87,"y":-17},{"s":"PTB TWI","x":10.42,"y":-17},{"s":"PTB TWI","x":10.97,"y":-54},{"s":"PTB TWI","x":11.51,"y":-99},{"s":"PTB TWI","x":12.06,"y":-107},{"s":"PTB TWI","x":12.61,"y":-99},{"s":"PTB TWI","x":13.16,"y":-99},{"s":"PTB TWI","x":13.7,"y":-84},{"s":"PTB TWI","x":14.25,"y":-99},{"s":"PTB TWI","x":14.8,"y":-99},{"s":"PTB TWI","x":15.35,"y":-84},{"s":"PTB TWI","x":15.89,"y":-84},{"s":"PTB TWI","x":16.44,"y":-92},{"s":"PTB TWI","x":16.99,"y":-92},{"s":"PTB TWI","x":17.54,"y":-114},{"s":"PTB TWI","x":18.08,"y":-92},{"s":"PTB TWI","x":18.54,"y":-129},{"s":"PTB TWI","x":18.81,"y":-152},{"s":"PTB TWI","x":19.09,"y":-144},{"s":"PTB TWI","x":19.8,"y":-150},{"s":"PTB TWI","x":20.6,"y":-110},{"s":"PTB TWI","x":21.5,"y":-50},
      {"s":"MAHR TWI","x":-21.55,"y":134},{"s":"MAHR TWI","x":-21.18,"y":104},{"s":"MAHR TWI","x":-20.82,"y":74},{"s":"MAHR TWI","x":-20.45,"y":14},{"s":"MAHR TWI","x":-20.18,"y":-24},{"s":"MAHR TWI","x":-19.91,"y":-84},{"s":"MAHR TWI","x":-19.55,"y":-99},{"s":"MAHR TWI","x":-19.18,"y":-92},{"s":"MAHR TWI","x":-18.64,"y":-69},{"s":"MAHR TWI","x":-18.09,"y":-54},{"s":"MAHR TWI","x":-17.36,"y":-47},{"s":"MAHR TWI","x":-16.64,"y":-39},{"s":"MAHR TWI","x":-15.91,"y":-54},{"s":"MAHR TWI","x":-15.18,"y":-62},{"s":"MAHR TWI","x":-14.45,"y":-69},{"s":"MAHR TWI","x":-13.73,"y":-69},{"s":"MAHR TWI","x":-13.0,"y":-62},{"s":"MAHR TWI","x":-12.27,"y":-69},{"s":"MAHR TWI","x":-11.91,"y":-92},{"s":"MAHR TWI","x":-11.55,"y":-54},{"s":"MAHR TWI","x":-11.0,"y":-24},{"s":"MAHR TWI","x":-10.45,"y":-9},{"s":"MAHR TWI","x":-9.91,"y":6},{"s":"MAHR TWI","x":-9.36,"y":14},{"s":"MAHR TWI","x":-8.82,"y":17},{"s":"MAHR TWI","x":-8.27,"y":14},{"s":"MAHR TWI","x":-7.73,"y":-2},{"s":"MAHR TWI","x":-7.18,"y":-32},{"s":"MAHR TWI","x":-6.64,"y":-24},{"s":"MAHR TWI","x":-6.09,"y":-39},{"s":"MAHR TWI","x":-5.55,"y":-2},{"s":"MAHR TWI","x":-5.0,"y":14},{"s":"MAHR TWI","x":-4.45,"y":21},{"s":"MAHR TWI","x":-3.91,"y":51},{"s":"MAHR TWI","x":-3.36,"y":74},{"s":"MAHR TWI","x":-2.82,"y":104},{"s":"MAHR TWI","x":-2.27,"y":156},{"s":"MAHR TWI","x":-1.73,"y":217},{"s":"MAHR TWI","x":-1.18,"y":217},{"s":"MAHR TWI","x":-0.64,"y":224},{"s":"MAHR TWI","x":-0.27,"y":239},{"s":"MAHR TWI","x":0.05,"y":254},{"s":"MAHR TWI","x":0.45,"y":224},{"s":"MAHR TWI","x":1.11,"y":199},{"s":"MAHR TWI","x":1.66,"y":194},{"s":"MAHR TWI","x":2.21,"y":179},{"s":"MAHR TWI","x":2.76,"y":134},{"s":"MAHR TWI","x":3.3,"y":96},{"s":"MAHR TWI","x":3.85,"y":59},{"s":"MAHR TWI","x":4.4,"y":21},{"s":"MAHR TWI","x":4.95,"y":-2},{"s":"MAHR TWI","x":5.49,"y":-17},{"s":"MAHR TWI","x":6.04,"y":-39},{"s":"MAHR TWI","x":6.59,"y":-32},{"s":"MAHR TWI","x":7.14,"y":-32},{"s":"MAHR TWI","x":7.68,"y":-2},{"s":"MAHR TWI","x":8.23,"y":-2},{"s":"MAHR TWI","x":8.78,"y":6},{"s":"MAHR TWI","x":9.32,"y":-9},{"s":"MAHR TWI","x":9.87,"y":-9},{"s":"MAHR TWI","x":10.42,"y":-9},{"s":"MAHR TWI","x":10.97,"y":-39},{"s":"MAHR TWI","x":11.51,"y":-92},{"s":"MAHR TWI","x":12.06,"y":-111},{"s":"MAHR TWI","x":12.61,"y":-81},{"s":"MAHR TWI","x":13.16,"y":-92},{"s":"MAHR TWI","x":13.7,"y":-69},{"s":"MAHR TWI","x":14.25,"y":-84},{"s":"MAHR TWI","x":14.8,"y":-77},{"s":"MAHR TWI","x":15.35,"y":-69},{"s":"MAHR TWI","x":15.89,"y":-77},{"s":"MAHR TWI","x":16.44,"y":-69},{"s":"MAHR TWI","x":16.99,"y":-84},{"s":"MAHR TWI","x":17.54,"y":-92},{"s":"MAHR TWI","x":18.08,"y":-92},{"s":"MAHR TWI","x":18.54,"y":-69},{"s":"MAHR TWI","x":18.81,"y":-92},{"s":"MAHR TWI","x":19.09,"y":-107},{"s":"MAHR TWI","x":19.8,"y":-120},{"s":"MAHR TWI","x":20.6,"y":-90},{"s":"MAHR TWI","x":21.5,"y":-30},
      {"s":"MAHR MFU","x":-21.55,"y":-9},{"s":"MAHR MFU","x":-21.27,"y":-69},{"s":"MAHR MFU","x":-21.0,"y":-99},{"s":"MAHR MFU","x":-20.64,"y":-122},{"s":"MAHR MFU","x":-20.27,"y":-159},{"s":"MAHR MFU","x":-20.0,"y":-205},{"s":"MAHR MFU","x":-19.73,"y":-238},{"s":"MAHR MFU","x":-19.36,"y":-220},{"s":"MAHR MFU","x":-19.09,"y":-205},{"s":"MAHR MFU","x":-18.85,"y":-212},{"s":"MAHR MFU","x":-18.64,"y":-159},{"s":"MAHR MFU","x":-18.36,"y":-129},{"s":"MAHR MFU","x":-17.91,"y":-99},{"s":"MAHR MFU","x":-17.36,"y":-84},{"s":"MAHR MFU","x":-16.82,"y":-77},{"s":"MAHR MFU","x":-16.27,"y":-54},{"s":"MAHR MFU","x":-15.91,"y":-24},{"s":"MAHR MFU","x":-15.55,"y":-6},{"s":"MAHR MFU","x":-15.18,"y":-24},{"s":"MAHR MFU","x":-14.82,"y":-24},{"s":"MAHR MFU","x":-14.45,"y":-54},{"s":"MAHR MFU","x":-14.09,"y":-69},{"s":"MAHR MFU","x":-13.73,"y":-84},{"s":"MAHR MFU","x":-13.36,"y":-47},{"s":"MAHR MFU","x":-13.0,"y":-24},{"s":"MAHR MFU","x":-12.82,"y":-47},{"s":"MAHR MFU","x":-12.55,"y":-21},{"s":"MAHR MFU","x":-12.09,"y":-39},{"s":"MAHR MFU","x":-11.73,"y":-47},{"s":"MAHR MFU","x":-11.36,"y":-54},{"s":"MAHR MFU","x":-11.0,"y":-47},{"s":"MAHR MFU","x":-10.64,"y":-54},{"s":"MAHR MFU","x":-10.27,"y":-69},{"s":"MAHR MFU","x":-9.91,"y":-77},{"s":"MAHR MFU","x":-9.55,"y":-84},{"s":"MAHR MFU","x":-9.18,"y":-69},{"s":"MAHR MFU","x":-8.82,"y":-77},{"s":"MAHR MFU","x":-8.45,"y":-54},{"s":"MAHR MFU","x":-8.09,"y":-69},{"s":"MAHR MFU","x":-7.82,"y":-47},{"s":"MAHR MFU","x":-7.55,"y":-69},{"s":"MAHR MFU","x":-7.18,"y":-92},{"s":"MAHR MFU","x":-6.82,"y":-84},{"s":"MAHR MFU","x":-6.45,"y":-92},{"s":"MAHR MFU","x":-6.0,"y":-107},{"s":"MAHR MFU","x":-5.73,"y":-69},{"s":"MAHR MFU","x":-5.18,"y":-47},{"s":"MAHR MFU","x":-4.64,"y":-39},{"s":"MAHR MFU","x":-4.27,"y":-9},{"s":"MAHR MFU","x":-3.91,"y":51},{"s":"MAHR MFU","x":-3.55,"y":141},{"s":"MAHR MFU","x":-3.18,"y":149},{"s":"MAHR MFU","x":-2.82,"y":126},{"s":"MAHR MFU","x":-2.45,"y":149},{"s":"MAHR MFU","x":-2.18,"y":217},{"s":"MAHR MFU","x":-1.91,"y":239},{"s":"MAHR MFU","x":-1.55,"y":269},{"s":"MAHR MFU","x":-1.18,"y":269},{"s":"MAHR MFU","x":-0.82,"y":322},{"s":"MAHR MFU","x":-0.45,"y":405},{"s":"MAHR MFU","x":-0.18,"y":495},{"s":"MAHR MFU","x":0.09,"y":465},{"s":"MAHR MFU","x":0.36,"y":412},{"s":"MAHR MFU","x":0.57,"y":400},{"s":"MAHR MFU","x":0.84,"y":367},{"s":"MAHR MFU","x":1.11,"y":292},{"s":"MAHR MFU","x":1.39,"y":269},{"s":"MAHR MFU","x":1.66,"y":299},{"s":"MAHR MFU","x":1.93,"y":202},{"s":"MAHR MFU","x":2.21,"y":156},{"s":"MAHR MFU","x":2.48,"y":164},{"s":"MAHR MFU","x":2.76,"y":217},{"s":"MAHR MFU","x":3.03,"y":209},{"s":"MAHR MFU","x":3.3,"y":111},{"s":"MAHR MFU","x":3.58,"y":89},{"s":"MAHR MFU","x":3.85,"y":96},{"s":"MAHR MFU","x":4.03,"y":-24},{"s":"MAHR MFU","x":4.22,"y":21},{"s":"MAHR MFU","x":4.49,"y":-17},{"s":"MAHR MFU","x":4.76,"y":-62},{"s":"MAHR MFU","x":5.04,"y":-47},{"s":"MAHR MFU","x":5.31,"y":-39},{"s":"MAHR MFU","x":5.68,"y":-69},{"s":"MAHR MFU","x":6.04,"y":-107},{"s":"MAHR MFU","x":6.41,"y":-9},{"s":"MAHR MFU","x":6.68,"y":-84},{"s":"MAHR MFU","x":6.95,"y":-107},{"s":"MAHR MFU","x":7.23,"y":-54},{"s":"MAHR MFU","x":7.5,"y":-122},{"s":"MAHR MFU","x":7.77,"y":-54},{"s":"MAHR MFU","x":8.05,"y":-39},{"s":"MAHR MFU","x":8.41,"y":-69},{"s":"MAHR MFU","x":8.69,"y":-32},{"s":"MAHR MFU","x":8.96,"y":-92},{"s":"MAHR MFU","x":9.32,"y":-77},{"s":"MAHR MFU","x":9.6,"y":-32},{"s":"MAHR MFU","x":9.87,"y":-99},{"s":"MAHR MFU","x":10.24,"y":-24},{"s":"MAHR MFU","x":10.6,"y":-17},{"s":"MAHR MFU","x":10.88,"y":-54},{"s":"MAHR MFU","x":11.24,"y":-54},{"s":"MAHR MFU","x":11.51,"y":-99},{"s":"MAHR MFU","x":11.97,"y":-32},{"s":"MAHR MFU","x":12.34,"y":14},{"s":"MAHR MFU","x":12.61,"y":-17},{"s":"MAHR MFU","x":12.88,"y":-24},{"s":"MAHR MFU","x":13.16,"y":-47},{"s":"MAHR MFU","x":13.52,"y":-92},{"s":"MAHR MFU","x":13.89,"y":-92},{"s":"MAHR MFU","x":14.25,"y":-62},{"s":"MAHR MFU","x":14.71,"y":-24},{"s":"MAHR MFU","x":15.16,"y":-17},{"s":"MAHR MFU","x":15.62,"y":-2},{"s":"MAHR MFU","x":16.08,"y":-9},{"s":"MAHR MFU","x":16.44,"y":-69},{"s":"MAHR MFU","x":16.81,"y":-77},{"s":"MAHR MFU","x":17.17,"y":-69},{"s":"MAHR MFU","x":17.54,"y":-92},{"s":"MAHR MFU","x":17.9,"y":-129},{"s":"MAHR MFU","x":18.27,"y":-144},{"s":"MAHR MFU","x":18.63,"y":-159},{"s":"MAHR MFU","x":19.0,"y":-190},{"s":"MAHR MFU","x":19.36,"y":-193},{"s":"MAHR MFU","x":19.76,"y":-227},{"s":"MAHR MFU","x":20.09,"y":-182},{"s":"MAHR MFU","x":20.46,"y":-159},{"s":"MAHR MFU","x":21.0,"y":-120},{"s":"MAHR MFU","x":21.5,"y":-80},
      {"s":"IPP MFU","x":-21.55,"y":-114},{"s":"IPP MFU","x":-21.27,"y":-212},{"s":"IPP MFU","x":-20.91,"y":-280},{"s":"IPP MFU","x":-20.55,"y":-310},{"s":"IPP MFU","x":-20.27,"y":-317},{"s":"IPP MFU","x":-20.0,"y":-355},{"s":"IPP MFU","x":-19.73,"y":-382},{"s":"IPP MFU","x":-19.45,"y":-370},{"s":"IPP MFU","x":-19.18,"y":-352},{"s":"IPP MFU","x":-18.82,"y":-332},{"s":"IPP MFU","x":-18.45,"y":-295},{"s":"IPP MFU","x":-18.18,"y":-272},{"s":"IPP MFU","x":-17.91,"y":-232},{"s":"IPP MFU","x":-17.45,"y":-227},{"s":"IPP MFU","x":-17.0,"y":-159},{"s":"IPP MFU","x":-16.64,"y":-152},{"s":"IPP MFU","x":-16.27,"y":-129},{"s":"IPP MFU","x":-15.91,"y":-122},{"s":"IPP MFU","x":-15.36,"y":-137},{"s":"IPP MFU","x":-14.82,"y":-99},{"s":"IPP MFU","x":-14.27,"y":-69},{"s":"IPP MFU","x":-13.73,"y":-77},{"s":"IPP MFU","x":-13.18,"y":-69},{"s":"IPP MFU","x":-12.64,"y":-92},{"s":"IPP MFU","x":-12.27,"y":-114},{"s":"IPP MFU","x":-11.73,"y":-62},{"s":"IPP MFU","x":-11.18,"y":-24},{"s":"IPP MFU","x":-10.64,"y":-2},{"s":"IPP MFU","x":-10.27,"y":21},{"s":"IPP MFU","x":-9.91,"y":51},{"s":"IPP MFU","x":-9.55,"y":36},{"s":"IPP MFU","x":-9.0,"y":51},{"s":"IPP MFU","x":-8.64,"y":14},{"s":"IPP MFU","x":-8.27,"y":-2},{"s":"IPP MFU","x":-7.73,"y":-2},{"s":"IPP MFU","x":-7.36,"y":-9},{"s":"IPP MFU","x":-7.0,"y":-69},{"s":"IPP MFU","x":-6.45,"y":-99},{"s":"IPP MFU","x":-6.0,"y":-144},{"s":"IPP MFU","x":-5.73,"y":-129},{"s":"IPP MFU","x":-5.27,"y":-92},{"s":"IPP MFU","x":-4.82,"y":-99},{"s":"IPP MFU","x":-4.45,"y":-84},{"s":"IPP MFU","x":-3.91,"y":-62},{"s":"IPP MFU","x":-3.36,"y":-69},{"s":"IPP MFU","x":-2.82,"y":-54},{"s":"IPP MFU","x":-2.27,"y":-54},{"s":"IPP MFU","x":-2.09,"y":-62},{"s":"IPP MFU","x":-1.73,"y":-84},{"s":"IPP MFU","x":-1.36,"y":-114},{"s":"IPP MFU","x":-0.91,"y":-137},{"s":"IPP MFU","x":-0.64,"y":-107},{"s":"IPP MFU","x":-0.27,"y":-122},{"s":"IPP MFU","x":0.09,"y":-107},{"s":"IPP MFU","x":0.57,"y":-122},{"s":"IPP MFU","x":1.11,"y":-114},{"s":"IPP MFU","x":1.66,"y":-99},{"s":"IPP MFU","x":2.21,"y":-54},{"s":"IPP MFU","x":2.76,"y":-39},{"s":"IPP MFU","x":3.3,"y":-47},{"s":"IPP MFU","x":3.85,"y":-69},{"s":"IPP MFU","x":4.4,"y":-114},{"s":"IPP MFU","x":4.95,"y":-137},{"s":"IPP MFU","x":5.49,"y":-144},{"s":"IPP MFU","x":6.04,"y":-137},{"s":"IPP MFU","x":6.59,"y":-114},{"s":"IPP MFU","x":7.14,"y":-69},{"s":"IPP MFU","x":7.68,"y":-24},{"s":"IPP MFU","x":8.23,"y":14},{"s":"IPP MFU","x":8.78,"y":29},{"s":"IPP MFU","x":9.32,"y":21},{"s":"IPP MFU","x":9.87,"y":29},{"s":"IPP MFU","x":10.42,"y":14},{"s":"IPP MFU","x":10.97,"y":-32},{"s":"IPP MFU","x":11.51,"y":-92},{"s":"IPP MFU","x":12.06,"y":-99},{"s":"IPP MFU","x":12.61,"y":-92},{"s":"IPP MFU","x":13.16,"y":-77},{"s":"IPP MFU","x":13.7,"y":-69},{"s":"IPP MFU","x":14.25,"y":-77},{"s":"IPP MFU","x":14.8,"y":-84},{"s":"IPP MFU","x":15.35,"y":-99},{"s":"IPP MFU","x":15.89,"y":-129},{"s":"IPP MFU","x":16.44,"y":-167},{"s":"IPP MFU","x":16.99,"y":-190},{"s":"IPP MFU","x":17.35,"y":-227},{"s":"IPP MFU","x":17.72,"y":-242},{"s":"IPP MFU","x":18.08,"y":-265},{"s":"IPP MFU","x":18.63,"y":-302},{"s":"IPP MFU","x":18.91,"y":-355},{"s":"IPP MFU","x":19.36,"y":-370},{"s":"IPP MFU","x":19.64,"y":-400},{"s":"IPP MFU","x":19.73,"y":-412},{"s":"IPP MFU","x":20.0,"y":-355},{"s":"IPP MFU","x":20.36,"y":-355},{"s":"IPP MFU","x":20.64,"y":-310},{"s":"IPP MFU","x":21.0,"y":-280},{"s":"IPP MFU","x":21.28,"y":-220},{"s":"IPP MFU","x":21.46,"y":-144},{"s":"IPP MFU","x":21.55,"y":-110}
    ]
  },
  "vconcat": [
    {
      "vconcat": [
        {
          "width": 1142, "height": 211,
          "data": {"name": "top"},
          "layer": [
            {
              "mark": {"type": "line", "strokeWidth": 2, "clip": true},
              "encoding": {
                "x": {"field": "x", "type": "quantitative", "scale": {"domain": [-21.82, 28.3], "nice": false, "zero": false},
                  "axis": {"values": [-20,-15,-10,-5,0,5,10,15,20,25], "labelExpr": "'' + datum.value", "tickSize": -12, "labelPadding": 28, "labelFontSize": 27, "labelColor": "#262626", "labelFlush": false, "labelOverlap": false, "grid": false, "domainColor": "#8a8a8a", "tickColor": "#8a8a8a", "domainWidth": 1.2, "tickWidth": 1.2, "title": "x / mm", "titleFontSize": 31, "titleFontWeight": "normal", "titleColor": "#262626", "titlePadding": 10}},
                "y": {"field": "y", "type": "quantitative", "scale": {"domain": [-400, 550], "nice": false, "zero": false},
                  "axis": {"values": [-400,-200,0,200,400], "labelExpr": "'' + datum.value", "tickSize": -12, "labelPadding": 24.5, "labelFontSize": 27, "labelColor": "#262626", "labelOverlap": false, "grid": false, "domainColor": "#8a8a8a", "tickColor": "#8a8a8a", "domainWidth": 1.2, "tickWidth": 1.2, "title": "Residuals / nm", "titleFontSize": 31, "titleFontWeight": "normal", "titleColor": "#262626", "titlePadding": 9}},
                "color": {"field": "s", "type": "nominal",
                  "scale": {"domain": ["USTUTT TWI","PTB TWI","MAHR TWI","MAHR MFU","IPP MFU"], "range": ["#ff0000","#0000ff","#00ff00","#808080","#ff00ff"]},
                  "legend": {"title": null, "orient": "top-right", "offset": 12, "fillColor": "white", "strokeColor": "#8a8a8a", "padding": 5.5, "symbolType": "M-1,0H5", "symbolSize": 225, "symbolStrokeWidth": 2.5, "labelOffset": 34.7, "labelFontSize": 22, "labelColor": "#000000", "labelFont": "Liberation Sans", "rowPadding": 6.8}}
              }
            },
            {
              "mark": {"type": "point", "opacity": 0},
              "encoding": {
                "x": {"field": "x", "type": "quantitative", "axis": {"orient": "top", "values": [-20,-15,-10,-5,0,5,10,15,20,25], "tickSize": -12, "labels": false, "grid": false, "title": null, "domainColor": "#8a8a8a", "tickColor": "#8a8a8a", "domainWidth": 1.2, "tickWidth": 1.2}},
                "y": {"field": "y", "type": "quantitative", "axis": {"orient": "right", "values": [-400,-200,0,200,400], "tickSize": -12, "labels": false, "grid": false, "title": null, "domainColor": "#8a8a8a", "tickColor": "#8a8a8a", "domainWidth": 1.2, "tickWidth": 1.2}}
              }
            }
          ],
          "resolve": {"axis": {"x": "independent", "y": "independent"}}
        },
        {
          "width": 1142, "height": 211,
          "data": {"name": "bottom"},
          "layer": [
            {
              "mark": {"type": "line", "strokeWidth": 2, "clip": true},
              "encoding": {
                "x": {"field": "x", "type": "quantitative", "scale": {"domain": [-21.82, 28.3], "nice": false, "zero": false},
                  "axis": {"values": [-20,-15,-10,-5,0,5,10,15,20,25], "labelExpr": "'' + datum.value", "tickSize": -12, "labelPadding": 28, "labelFontSize": 27, "labelColor": "#262626", "labelFlush": false, "labelOverlap": false, "grid": false, "domainColor": "#8a8a8a", "tickColor": "#8a8a8a", "domainWidth": 1.2, "tickWidth": 1.2, "title": "y / mm", "titleFontSize": 31, "titleFontWeight": "normal", "titleColor": "#262626", "titlePadding": 10}},
                "y": {"field": "y", "type": "quantitative", "scale": {"domain": [-400, 550], "nice": false, "zero": false},
                  "axis": {"values": [-400,-200,0,200,400], "labelExpr": "'' + datum.value", "tickSize": -12, "labelPadding": 24.5, "labelFontSize": 27, "labelColor": "#262626", "labelOverlap": false, "grid": false, "domainColor": "#8a8a8a", "tickColor": "#8a8a8a", "domainWidth": 1.2, "tickWidth": 1.2, "title": "Residuals / nm", "titleFontSize": 31, "titleFontWeight": "normal", "titleColor": "#262626", "titlePadding": 9}},
                "color": {"field": "s", "type": "nominal",
                  "scale": {"domain": ["USTUTT TWI","PTB TWI","MAHR TWI","MAHR MFU","IPP MFU"], "range": ["#ff0000","#0000ff","#00ff00","#808080","#ff00ff"]},
                  "legend": {"title": null, "orient": "top-right", "offset": 12, "fillColor": "white", "strokeColor": "#8a8a8a", "padding": 5.5, "symbolType": "M-1,0H5", "symbolSize": 225, "symbolStrokeWidth": 2.5, "labelOffset": 34.7, "labelFontSize": 22, "labelColor": "#000000", "labelFont": "Liberation Sans", "rowPadding": 6.8}}
              }
            },
            {
              "mark": {"type": "point", "opacity": 0},
              "encoding": {
                "x": {"field": "x", "type": "quantitative", "axis": {"orient": "top", "values": [-20,-15,-10,-5,0,5,10,15,20,25], "tickSize": -12, "labels": false, "grid": false, "title": null, "domainColor": "#8a8a8a", "tickColor": "#8a8a8a", "domainWidth": 1.2, "tickWidth": 1.2}},
                "y": {"field": "y", "type": "quantitative", "axis": {"orient": "right", "values": [-400,-200,0,200,400], "tickSize": -12, "labels": false, "grid": false, "title": null, "domainColor": "#8a8a8a", "tickColor": "#8a8a8a", "domainWidth": 1.2, "tickWidth": 1.2}}
              }
            }
          ],
          "resolve": {"axis": {"x": "independent", "y": "independent"}}
        }
      ],
      "spacing": 37,
      "resolve": {"scale": {"color": "independent"}, "legend": {"color": "independent"}}
    },
    {
      "width": 1142, "height": 50,
      "layer": [
        {"data": {"values": [{"t": "Fig. 8"}]}, "mark": {"type": "text", "align": "left", "baseline": "alphabetic", "font": "Lato", "fontSize": 20, "fontWeight": "bold", "color": "#231f20"}, "encoding": {"text": {"field": "t", "type": "nominal"}, "x": {"value": -116}, "y": {"value": 23.5}}},
        {"data": {"values": [{"t": "x−, z− (at y = 0, upper figure) and y−, z− (at x = 0, lower figure) profiles after subtracting the design form and an individual best-fit sphere"}]}, "mark": {"type": "text", "align": "left", "baseline": "alphabetic", "font": "Lato", "fontSize": 20, "color": "#231f20"}, "encoding": {"text": {"field": "t", "type": "nominal"}, "x": {"value": -61}, "y": {"value": 23.5}}},
        {"data": {"values": [{"t": "of each data set for the convex toroidal specimen"}]}, "mark": {"type": "text", "align": "left", "baseline": "alphabetic", "font": "Lato", "fontSize": 20, "color": "#231f20"}, "encoding": {"text": {"field": "t", "type": "nominal"}, "x": {"value": -116}, "y": {"value": 47}}}
      ]
    }
  ],
  "spacing": 8,
  "resolve": {"scale": {"color": "independent"}, "legend": {"color": "independent"}}
}
